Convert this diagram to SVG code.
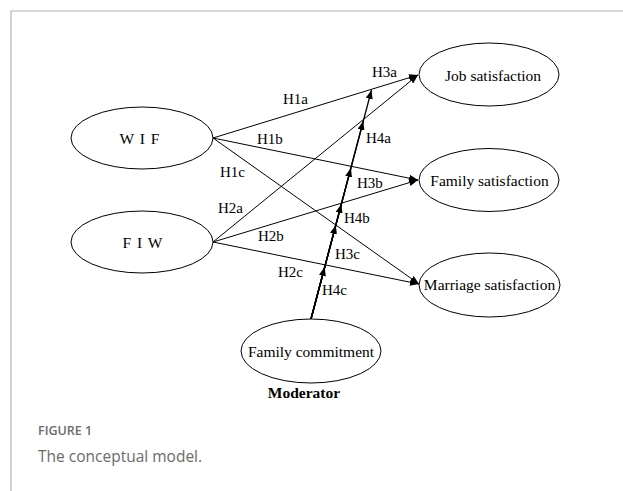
<svg xmlns="http://www.w3.org/2000/svg" width="623" height="491" viewBox="0 0 623 491">
<style>
.node ellipse{fill:#fff;stroke:#000;stroke-width:1}
.nt{font-family:"Liberation Serif","Times New Roman",serif;font-size:15.5px;fill:#000;text-anchor:middle}
.lb{font-family:"Liberation Serif","Times New Roman",serif;font-size:15px;fill:#000}
.c{stroke:#000;stroke-width:1;fill:none;marker-end:url(#ah)}
.m{stroke:#000;stroke-width:1.3;fill:none;marker-end:url(#ah)}
</style>
<defs>
<marker id="ah" markerUnits="userSpaceOnUse" markerWidth="10" markerHeight="7" refX="9" refY="3.5" orient="auto">
<path d="M0,0 L9,3.5 L0,7 z" fill="#000"/>
</marker>
</defs>
<rect width="623" height="491" fill="#fff"/>
<path d="M11,491 V11 H623" fill="none" stroke="#b5b5b5" stroke-width="1.2"/>
<g id="connectors">
<line class="c" x1="213" y1="138" x2="418" y2="75"/>
<line class="c" x1="213" y1="138" x2="418" y2="180"/>
<line class="c" x1="213" y1="138" x2="419" y2="284"/>
<line class="c" x1="213" y1="242" x2="418" y2="75"/>
<line class="c" x1="213" y1="242" x2="418" y2="180"/>
<line class="c" x1="213" y1="242" x2="419" y2="284"/>
<line class="m" x1="311" y1="319" x2="371.5" y2="90"/>
<line class="m" x1="311" y1="319" x2="363.3" y2="121"/>
<line class="m" x1="311" y1="319" x2="350.9" y2="168"/>
<line class="m" x1="311" y1="319" x2="341.4" y2="204"/>
<line class="m" x1="311" y1="319" x2="335.8" y2="225"/>
<line class="m" x1="311" y1="319" x2="324.7" y2="267"/>
</g>
<g id="labels">
<text class="lb" x="372" y="77">H3a</text>
<text class="lb" x="283" y="104">H1a</text>
<text class="lb" x="257" y="144">H1b</text>
<text class="lb" x="220" y="177">H1c</text>
<text class="lb" x="218" y="213">H2a</text>
<text class="lb" x="258" y="241">H2b</text>
<text class="lb" x="278" y="277">H2c</text>
<text class="lb" x="366" y="143">H4a</text>
<text class="lb" x="357" y="188">H3b</text>
<text class="lb" x="344" y="223">H4b</text>
<text class="lb" x="335" y="259">H3c</text>
<text class="lb" x="322" y="295">H4c</text>
</g>
<g id="wif" class="node">
<ellipse cx="142" cy="138" rx="71" ry="31"/>
<text class="nt" x="140" y="143.5" font-size="16" letter-spacing="1">W I F</text>
</g>
<g id="fiw" class="node">
<ellipse cx="142" cy="242" rx="71" ry="31"/>
<text class="nt" x="143" y="247.5" font-size="16" letter-spacing="1">F I W</text>
</g>
<g id="job" class="node">
<ellipse cx="489" cy="74.5" rx="70" ry="31.5"/>
<text class="nt" x="493" y="81" font-size="17">Job satisfaction</text>
</g>
<g id="family" class="node">
<ellipse cx="489" cy="180" rx="70" ry="31.5"/>
<text class="nt" x="489.5" y="185.5">Family satisfaction</text>
</g>
<g id="marriage" class="node">
<ellipse cx="489.5" cy="285" rx="70.5" ry="32"/>
<text class="nt" x="489.5" y="290">Marriage satisfaction</text>
</g>
<g id="commitment" class="node">
<ellipse cx="311" cy="351" rx="70" ry="32"/>
<text class="nt" x="311" y="356.5" font-size="16">Family commitment</text>
<text class="nt" x="304" y="398" font-size="15" font-weight="bold">Moderator</text>
</g>
<g id="caption">
<text x="38" y="435" font-family="'Open Sans',sans-serif" font-size="12.5" font-weight="600" fill="#6b6b6b">FIGURE 1</text>
<text x="38" y="462" font-family="'Open Sans',sans-serif" font-size="15.5" fill="#6b6b6b">The conceptual model.</text>
</g>
</svg>
